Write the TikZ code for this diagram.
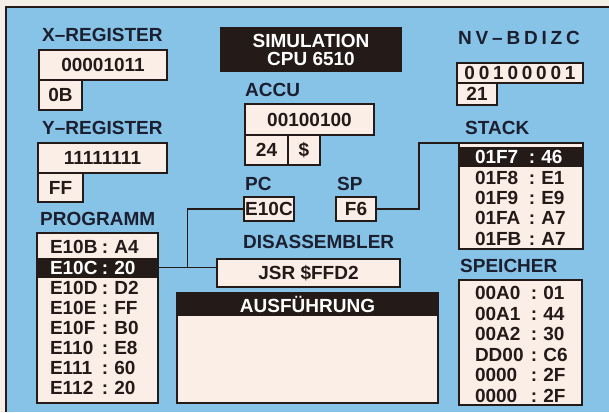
\documentclass[tikz,border=0pt]{standalone}
\usepackage{fontspec}
\setmainfont{Liberation Sans}
\newfontfamily\spaced[LetterSpace=20]{Liberation Sans}
\usepackage{tikz}
\usetikzlibrary{positioning}

\definecolor{screen}{HTML}{86C3E6}
\definecolor{paper}{HTML}{F4EFE6}
\definecolor{cell}{HTML}{FBEEE6}
\definecolor{ink}{HTML}{241A18}
\definecolor{lbltext}{HTML}{1C1F30}
\newcommand{\entry}[3][52pt]{\makebox[#1][l]{#2}:\hspace{6pt}#3}

\begin{document}
\begin{tikzpicture}[x=1pt, y=-1pt,
    txt/.style={font=\fontsize{19}{20}\selectfont\bfseries},
    lbl/.style={txt, text=lbltext, anchor=west, inner sep=0pt},
    box/.style={txt, draw=ink, line width=1.5pt, fill=cell, text=ink,
                anchor=north west, inner sep=0pt, outer sep=0pt},
    dark/.style={box, fill=ink, text=white},
    row/.style={txt, anchor=north west, inner sep=0pt, outer sep=0pt,
                align=left, text=ink},
    prow/.style={row, text width=119.5pt, minimum height=20.1pt,
                 execute at begin node=\hspace*{12.25pt}},
    srow/.style={row, text width=122.5pt, minimum height=20.4pt,
                 execute at begin node=\hspace*{15.25pt}},
    mrow/.style={row, text width=121.5pt, minimum height=20.6pt,
                 execute at begin node=\hspace*{15.25pt}},
    hi/.style={fill=ink, text=white},
    wire/.style={draw=ink, line width=1.3pt}
]
\useasboundingbox (0,0) rectangle (609,412);
\fill[paper] (0,0) rectangle (609,412);
\fill[screen] (6,7) rectangle (609,412);
\draw[ink, line width=1.8pt] (6,412) -- (6,7) -- (609,7);

\node[dark, minimum width=180pt, minimum height=43pt, align=center,
      font=\fontsize{19}{18}\selectfont\bfseries] (title) at (221,28) {SIMULATION\\CPU 6510};

% registers
\node[lbl] (xlbl) at (42,35) {X\textendash REGISTER};
\node[box, minimum width=128pt, minimum height=30pt] (xreg) at (39,50) {00001011};
\node[box, minimum width=43pt, minimum height=30pt, below right=0pt of xreg.south west] (xhex) {0B};
\node[lbl] (ylbl) at (42,128) {Y\textendash REGISTER};
\node[box, minimum width=129pt, minimum height=30pt] (yreg) at (38,143) {11111111};
\node[box, minimum width=45pt, minimum height=29pt, below right=0pt of yreg.south west] (yhex) {FF};

\node[lbl] (albl) at (245,90) {ACCU};
\node[box, minimum width=129pt, minimum height=31pt] (accu) at (245,104) {00100100};
\node[box, minimum width=43pt, minimum height=30pt, below right=0pt of accu.south west] (adec) {24};
\node[box, minimum width=32pt, minimum height=30pt, right=0pt of adec] (achr) {\$};

\node[lbl, font=\fontsize{19}{20}\selectfont\spaced\bfseries] (flbl) at (458,38) {NV\textendash BDIZC};
\node[box, minimum width=126pt, minimum height=20pt,
      font=\fontsize{19}{20}\selectfont\spaced\bfseries] (flags) at (457,63) {00100001};
\node[box, minimum width=40pt, minimum height=22pt, below right=0pt of flags.south west] (fhex) {21};

\node[lbl] (pclbl) at (245,184) {PC};
\node[box, minimum width=50pt, minimum height=24pt] (pc) at (244,197) {E10C};
\node[lbl] (splbl) at (337,184) {SP};
\node[box, minimum width=40pt, minimum height=24pt] (sp) at (336,197) {F6};

\node[lbl] (dlbl) at (243,242) {DISASSEMBLER};
\node[box, minimum width=183pt, minimum height=28pt] (dis) at (217,259) {JSR \$FFD2};

% program listing
\node[lbl] (plbl) at (40,219) {PROGRAMM};
\node[box, minimum width=121pt, minimum height=170pt] (prog) at (37,233) {};
\node[prow] (p1) at (37.75,237.4) {\entry{E10B}{A4}};
\node[prow, hi, below=0pt of p1] (p2) {\entry{E10C}{20}};
\node[prow, below=0pt of p2] (p3) {\entry{E10D}{D2}};
\node[prow, below=0pt of p3] (p4) {\entry{E10E}{FF}};
\node[prow, below=0pt of p4] (p5) {\entry{E10F}{B0}};
\node[prow, below=0pt of p5] (p6) {\entry{E110}{E8}};
\node[prow, below=0pt of p6] (p7) {\entry{E111}{60}};
\node[prow, below=0pt of p7] (p8) {\entry{E112}{20}};

% stack
\node[lbl] (slbl) at (465,128) {STACK};
\node[box, minimum width=124pt, minimum height=106pt] (stack) at (459,143) {};
\node[srow, hi] (s1) at (459.75,147) {\entry[54pt]{01F7}{46}};
\node[srow, below=0pt of s1] (s2) {\entry[54pt]{01F8}{E1}};
\node[srow, below=0pt of s2] (s3) {\entry[54pt]{01F9}{E9}};
\node[srow, below=0pt of s3] (s4) {\entry[54pt]{01FA}{A7}};
\node[srow, below=0pt of s4] (s5) {\entry[54pt]{01FB}{A7}};

% memory
\node[lbl] (mlbl) at (460,266) {SPEICHER};
\node[box, minimum width=123pt, minimum height=125pt] (mem) at (459,280) {};
\node[mrow] (m1) at (459.75,282.7) {\entry[56pt]{00A0}{01}};
\node[mrow, below=0pt of m1] (m2) {\entry[56pt]{00A1}{44}};
\node[mrow, below=0pt of m2] (m3) {\entry[56pt]{00A2}{30}};
\node[mrow, below=0pt of m3] (m4) {\entry[56pt]{DD00}{C6}};
\node[mrow, below=0pt of m4] (m5) {\entry[56pt]{0000}{2F}};
\node[mrow, below=0pt of m5] (m6) {\entry[56pt]{0000}{2F}};

% execution window
\node[dark, minimum width=261pt, minimum height=22pt] (exec) at (177,293) {AUSFÜHRUNG};
\node[box, minimum width=261pt, minimum height=88pt, below right=0pt of exec.south west] (out) {};

% wires
\path (p2.east) ++(30pt,0) coordinate (jn);
\draw[wire] (p2.east) -- (p2.east -| dis.west);
\draw[wire] (jn) |- (pc.west);
\path (stack.north west) ++(-40pt,0) coordinate (sb);
\draw[wire] (sp.east) -| (sb) -- (stack.north west);
\end{tikzpicture}
\end{document}
